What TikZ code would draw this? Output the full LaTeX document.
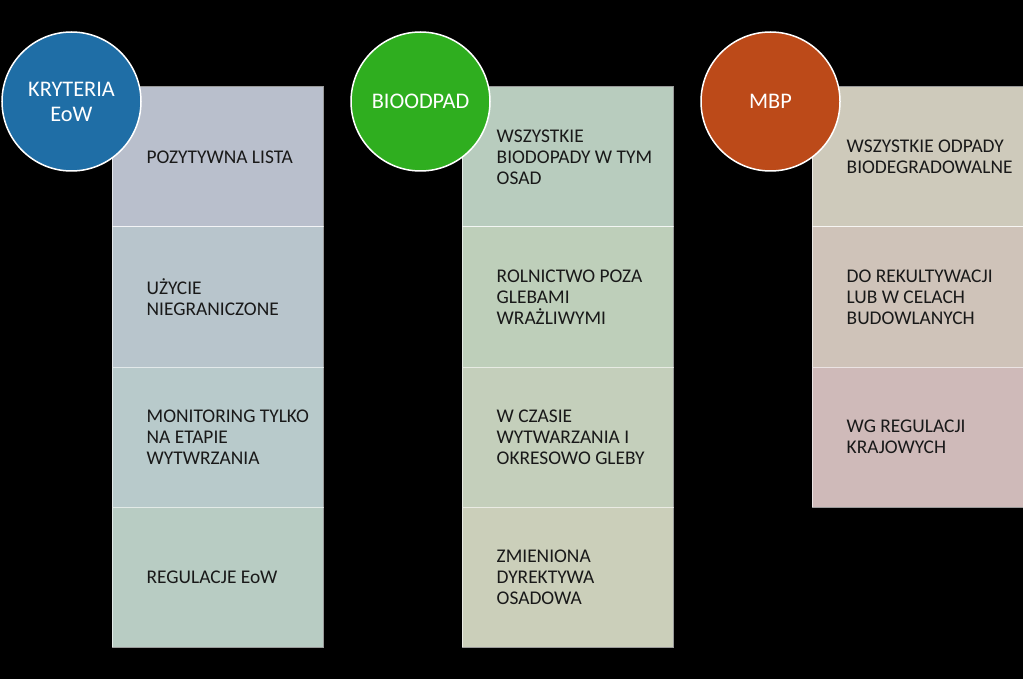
\documentclass[tikz,border=0pt]{standalone}
\usepackage{fontspec}
\setmainfont{Carlito}
\definecolor{cA1}{HTML}{B9BFCC}
\definecolor{cA2}{HTML}{B8C5CC}
\definecolor{cA3}{HTML}{B8CACB}
\definecolor{cA4}{HTML}{B8CCC3}
\definecolor{cB1}{HTML}{B8CCBE}
\definecolor{cB2}{HTML}{BECFBA}
\definecolor{cB3}{HTML}{C4CFBB}
\definecolor{cB4}{HTML}{CBCFBA}
\definecolor{cC1}{HTML}{CECABB}
\definecolor{cC2}{HTML}{CFC3B9}
\definecolor{cC3}{HTML}{CFBAB9}
\definecolor{blueC}{HTML}{1F6EA6}
\definecolor{greenC}{HTML}{2FAE1F}
\definecolor{orangeC}{HTML}{BC4A19}
\tikzset{
  cell/.style={rectangle, draw=white, draw opacity=0.6, line width=1pt, minimum width=211pt, minimum height=140pt, inner sep=0pt},
  txt/.style={anchor=west, align=left, inner sep=0pt, font=\fontsize{19.4}{21}\selectfont, text=black!90},
  head/.style={circle, draw=white, line width=1.5pt, minimum size=139pt, inner sep=0pt, align=center, text=white, font=\fontsize{22.3}{25}\selectfont}
}
\begin{document}
\begin{tikzpicture}[x=1pt,y=-1pt]
\fill[black] (0,0) rectangle (1023,679);
\useasboundingbox (0,0) rectangle (1023,679);
% column A
\node[cell, fill=cA1] (a1) at (217.5,157) {};
\node[cell, fill=cA2] (a2) at (217.5,297) {};
\node[cell, fill=cA3] (a3) at (217.5,437) {};
\node[cell, fill=cA4] (a4) at (217.5,577) {};
\node[txt] (a1t) at ([xshift=35pt]a1.west) {POZYTYWNA LISTA};
\node[txt] (a2t) at ([xshift=35pt]a2.west) {UŻYCIE\\NIEGRANICZONE};
\node[txt] (a3t) at ([xshift=35pt]a3.west) {MONITORING TYLKO\\NA ETAPIE\\WYTWRZANIA};
\node[txt] (a4t) at ([xshift=35pt]a4.west) {REGULACJE EoW};
\node[head, fill=blueC] (ha) at (71.5,101.5) {KRYTERIA\\EoW};
% column B
\node[cell, fill=cB1] (b1) at (567.5,157) {};
\node[cell, fill=cB2] (b2) at (567.5,297) {};
\node[cell, fill=cB3] (b3) at (567.5,437) {};
\node[cell, fill=cB4] (b4) at (567.5,577) {};
\node[txt] (b1t) at ([xshift=35pt]b1.west) {WSZYSTKIE\\BIODOPADY W TYM\\OSAD};
\node[txt] (b2t) at ([xshift=35pt]b2.west) {ROLNICTWO POZA\\GLEBAMI\\WRAŻLIWYMI};
\node[txt] (b3t) at ([xshift=35pt]b3.west) {W CZASIE\\WYTWARZANIA I\\OKRESOWO GLEBY};
\node[txt] (b4t) at ([xshift=35pt]b4.west) {ZMIENIONA\\DYREKTYWA\\OSADOWA};
\node[head, fill=greenC] (hb) at (420.5,101.5) {BIOODPAD};
% column C
\node[cell, fill=cC1] (c1) at (917.5,157) {};
\node[cell, fill=cC2] (c2) at (917.5,297) {};
\node[cell, fill=cC3] (c3) at (917.5,437) {};
\node[txt] (c1t) at ([xshift=35pt]c1.west) {WSZYSTKIE ODPADY\\BIODEGRADOWALNE};
\node[txt] (c2t) at ([xshift=35pt]c2.west) {DO REKULTYWACJI\\LUB W CELACH\\BUDOWLANYCH};
\node[txt] (c3t) at ([xshift=35pt]c3.west) {WG REGULACJI\\KRAJOWYCH};
\node[head, fill=orangeC] (hc) at (770.5,101.5) {MBP};
\end{tikzpicture}
\end{document}
